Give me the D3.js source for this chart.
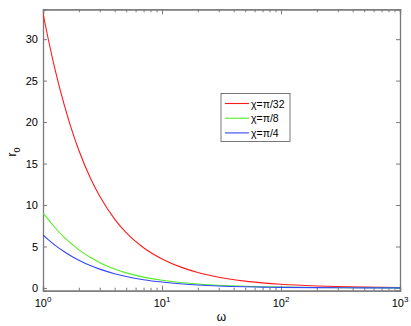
<!DOCTYPE html>
<html>
<head>
<meta charset="utf-8">
<script src="https://cdn.jsdelivr.net/npm/d3@7"></script>
<style>
  body { margin: 0; background: #fff; }
  text { font-family: "Liberation Sans", Arial, sans-serif; }
</style>
</head>
<body>
<script>
// omega sample points (log x axis)
var omega = [1, 1.1, 1.25, 1.5, 1.75, 2, 2.5, 3, 4, 5, 7, 10, 15, 20, 30, 50, 70, 100, 200, 500, 1000];

// r0 values, one array per chi
var rRed   = [33.1, 30.2, 26.6, 22.2, 19.0, 16.6, 13.25, 11.05, 8.3, 6.66, 4.85, 3.5, 2.42, 1.87, 1.3, 0.82, 0.61, 0.44, 0.235, 0.1, 0.052];
var rGreen = [9.07, 8.3, 7.35, 6.13, 5.3, 4.6, 3.7, 3.05, 2.28, 1.82, 1.31, 0.93, 0.63, 0.48, 0.325, 0.2, 0.145, 0.103, 0.053, 0.022, 0.011];
var rBlue  = [6.39, 5.85, 5.2, 4.4, 3.8, 3.35, 2.7, 2.27, 1.72, 1.39, 1.0, 0.71, 0.48, 0.36, 0.24, 0.146, 0.105, 0.074, 0.038, 0.015, 0.0076];

var seriesNames = ["\u03c7=\u03c0/32", "\u03c7=\u03c0/8", "\u03c7=\u03c0/4"];
var seriesColors = ["#ff1a1a", "#55ee22", "#3344ff"];
var yTicks = [0, 5, 10, 15, 20, 25, 30];
var xTicks = [1, 10, 100, 1000];

var svgWidth = 411, svgHeight = 326;
var margin = { top: 9.3, right: 11, bottom: 35.3, left: 43 };
var width = svgWidth - margin.left - margin.right;
var height = svgHeight - margin.top - margin.bottom;
var axisColor = "#7a7a7a";

var svg = d3.select("body").append("svg")
  .attr("width", svgWidth)
  .attr("height", svgHeight);

var chartGroup = svg.append("g")
  .attr("transform", `translate(${margin.left}, ${margin.top})`);

var xScale = d3.scaleLog().domain([1, 1000]).range([0, width]);
var yScale = d3.scaleLinear().domain([-0.33, 33.6]).range([height, 0]);

// clip path so lines stay inside the box
chartGroup.append("clipPath").attr("id", "clip")
  .append("rect").attr("width", width).attr("height", height);

// minor log ticks
var minorTicks = [];
[1, 10, 100].forEach(function(dec) {
  for (var k = 2; k <= 9; k++) minorTicks.push(dec * k);
});

// bottom axis (ticks inward)
var bottomAxis = d3.axisBottom(xScale).tickValues(xTicks).tickSize(-5).tickFormat("");
var xAxis = chartGroup.append("g")
  .attr("transform", `translate(0, ${height})`)
  .call(bottomAxis);
var bottomMinor = d3.axisBottom(xScale).tickValues(minorTicks).tickSize(-3).tickFormat("");
chartGroup.append("g").attr("transform", `translate(0, ${height})`).call(bottomMinor);

// top axis
chartGroup.append("g").call(d3.axisTop(xScale).tickValues(xTicks).tickSize(-5).tickFormat(""));
chartGroup.append("g").call(d3.axisTop(xScale).tickValues(minorTicks).tickSize(-3).tickFormat(""));

// left and right axes
var leftAxis = d3.axisLeft(yScale).tickValues(yTicks).tickSize(-4).tickPadding(5);
var yAxis = chartGroup.append("g").call(leftAxis);
chartGroup.append("g").attr("transform", `translate(${width}, 0)`)
  .call(d3.axisRight(yScale).tickValues(yTicks).tickSize(-4).tickFormat(""));

chartGroup.selectAll(".domain").attr("stroke", axisColor).attr("stroke-width", 1.3);
chartGroup.selectAll(".tick line").attr("stroke", axisColor);
yAxis.selectAll("text").attr("font-size", 11).attr("fill", "#000")
  .attr("font-family", "Liberation Sans, Arial, sans-serif");

// x tick labels 10^n with superscripts
var xLabels = chartGroup.append("g").attr("transform", `translate(0, ${height})`);
xTicks.forEach(function(t) {
  var txt = xLabels.append("text")
    .attr("x", xScale(t))
    .attr("y", 16)
    .attr("text-anchor", "middle")
    .attr("font-size", 11)
    .attr("fill", "#000");
  txt.append("tspan").text("10");
  txt.append("tspan").attr("dy", -5).attr("font-size", 8).text(Math.round(Math.log10(t)));
});

// axis titles
chartGroup.append("text")
  .attr("x", width / 2)
  .attr("y", height + 30)
  .attr("text-anchor", "middle")
  .attr("font-size", 12)
  .text("\u03c9");

var ylab = svg.append("text")
  .attr("transform", `translate(16, 152) rotate(-90)`)
  .attr("text-anchor", "middle")
  .attr("font-size", 12);
ylab.append("tspan").text("r");
ylab.append("tspan").attr("dy", 4).attr("font-size", 9).text("0");

// curves
var allSeries = [rRed, rGreen, rBlue];
var line = d3.line()
  .curve(d3.curveMonotoneX)
  .x(function(d) { return xScale(d[0]); })
  .y(function(d) { return yScale(d[1]); });

var plotGroup = chartGroup.append("g").attr("clip-path", "url(#clip)");
allSeries.forEach(function(vals, i) {
  var pts = omega.map(function(w, j) { return [w, vals[j]]; });
  plotGroup.append("path")
    .datum(pts)
    .attr("fill", "none")
    .attr("stroke", seriesColors[i])
    .attr("stroke-width", 1.1)
    .attr("d", line);
});

// legend
var legend = svg.append("g").attr("transform", "translate(221, 93.5)");
legend.append("rect")
  .attr("width", 69)
  .attr("height", 48)
  .attr("fill", "#fff")
  .attr("stroke", "#555")
  .attr("stroke-width", 0.8);
seriesNames.forEach(function(name, i) {
  var yy = 10 + i * 14.7;
  legend.append("line")
    .attr("x1", 4).attr("x2", 28)
    .attr("y1", yy).attr("y2", yy)
    .attr("stroke", seriesColors[i])
    .attr("stroke-width", 1.1);
  legend.append("text")
    .attr("x", 30)
    .attr("y", yy + 4)
    .attr("font-size", 10.5)
    .text(name);
});
</script>
</body>
</html>
